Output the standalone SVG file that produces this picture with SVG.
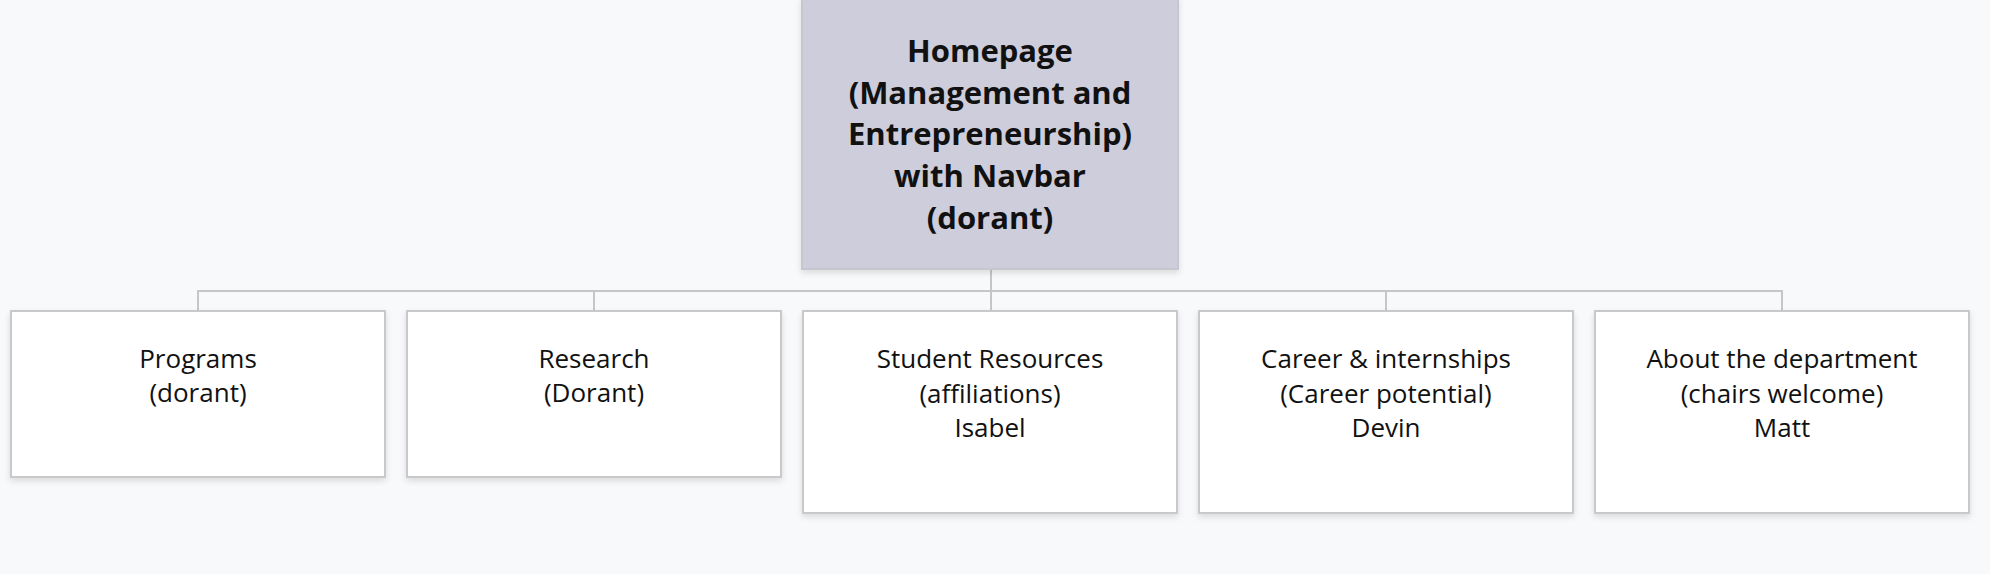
<svg xmlns="http://www.w3.org/2000/svg" width="1990" height="574" viewBox="0 0 1990 574">
<defs>
<filter id="sh" x="-5%" y="-5%" width="110%" height="115%">
<feDropShadow dx="0" dy="3" stdDeviation="3" flood-color="#000" flood-opacity="0.12"/>
</filter>
<style>
.box{fill:#ffffff;stroke:#c9c9cc;stroke-width:2;filter:url(#sh)}
.root{fill:#cdcddb;stroke:#c6c6d0;stroke-width:2;filter:url(#sh)}
.t{font-family:"Open Sans","Noto Sans","Liberation Sans",sans-serif;font-size:26px;fill:#111;text-anchor:middle}
.tb{font-family:"Open Sans","Noto Sans","Liberation Sans",sans-serif;font-size:31px;font-weight:bold;fill:#111;text-anchor:middle}
.c{stroke:#c6c6c9;stroke-width:2;fill:none}
</style>
</defs>
<rect width="1990" height="574" fill="#f8f9fa"/>
<g id="connectors">
<path class="c" d="M991 269V291M198 310V291H1782V310M594 291V310M991 291V310M1386 291V310"/>
</g>
<g id="root">
<rect class="root" x="802" y="-2" width="376" height="271"/>
<text class="tb" x="990" y="62">Homepage</text>
<text class="tb" x="990" y="103.7">(Management and</text>
<text class="tb" x="990" y="145.3">Entrepreneurship)</text>
<text class="tb" x="990" y="187">with Navbar</text>
<text class="tb" x="990" y="228.7">(dorant)</text>
</g>
<g id="programs">
<rect class="box" x="11" y="311" width="374" height="166"/>
<text class="t" x="198" y="368">Programs</text>
<text class="t" x="198" y="402">(dorant)</text>
</g>
<g id="research">
<rect class="box" x="407" y="311" width="374" height="166"/>
<text class="t" x="594" y="368">Research</text>
<text class="t" x="594" y="402">(Dorant)</text>
</g>
<g id="student">
<rect class="box" x="803" y="311" width="374" height="202"/>
<text class="t" x="990" y="368">Student Resources</text>
<text class="t" x="990" y="402.5">(affiliations)</text>
<text class="t" x="990" y="437">Isabel</text>
</g>
<g id="career">
<rect class="box" x="1199" y="311" width="374" height="202"/>
<text class="t" x="1386" y="368">Career &amp; internships</text>
<text class="t" x="1386" y="402.5">(Career potential)</text>
<text class="t" x="1386" y="437">Devin</text>
</g>
<g id="about">
<rect class="box" x="1595" y="311" width="374" height="202"/>
<text class="t" x="1782" y="368">About the department</text>
<text class="t" x="1782" y="402.5">(chairs welcome)</text>
<text class="t" x="1782" y="437">Matt</text>
</g>
</svg>
